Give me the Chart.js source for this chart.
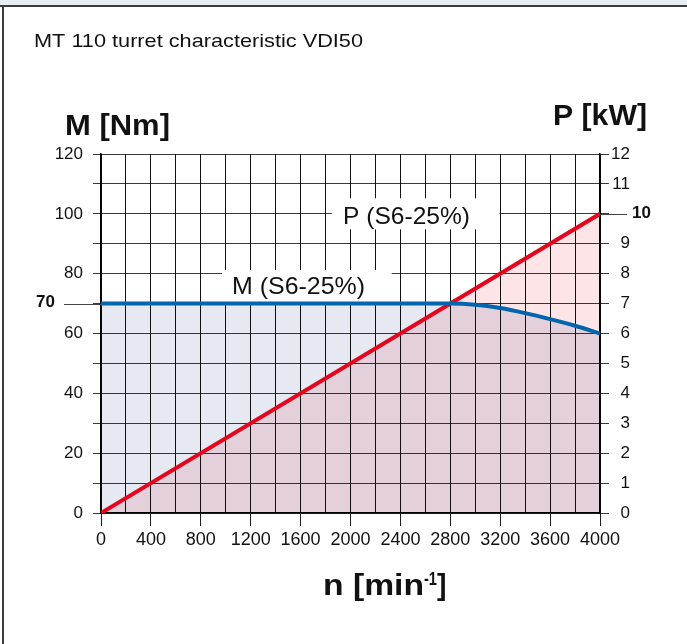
<!DOCTYPE html>
<html>
<head>
<meta charset="utf-8">
<title>MT 110 turret characteristic VDI50</title>
<script src="https://cdn.jsdelivr.net/npm/chart.js@4/dist/chart.umd.min.js"></script>
<style>
  html, body { margin: 0; padding: 0; background: #fff; }
  #wrap { position: relative; width: 687px; height: 644px; }
</style>
</head>
<body>
<div id="wrap"><canvas id="chart" width="687" height="644"></canvas></div>
<script>
// Torque curve M (S6-25%) over spindle speed
const speedM  = [0, 2800, 3000, 3200, 3400, 3600, 3800, 4000];
const torqueM = [70, 70, 69.6, 68.5, 66.8, 64.8, 62.6, 60];

// Power line P (S6-25%) over spindle speed
const speedP = [0, 4000];
const powerP = [0, 10];

// Labelled ticks
const speedTicks  = [0, 400, 800, 1200, 1600, 2000, 2400, 2800, 3200, 3600, 4000];
const torqueTicks = [0, 20, 40, 60, 80, 100, 120];
const powerTicks  = [0, 1, 2, 3, 4, 5, 6, 7, 8, 9, 11, 12];

// Highlighted values
const torqueMark = 70;
const powerMark = 10;

const FONT = "'Liberation Sans', Arial, Helvetica, sans-serif";
const W = 687, H = 644;

function fitText(ctx, text, x, y, font, width) {
  ctx.save();
  ctx.font = font;
  const w = ctx.measureText(text).width;
  ctx.translate(x, y);
  ctx.scale(width / w, 1);
  ctx.textAlign = 'left';
  ctx.textBaseline = 'alphabetic';
  ctx.fillText(text, 0, 0);
  ctx.restore();
}

const decor = {
  id: 'decor',
  beforeDraw(chart) {
    const ctx = chart.ctx;
    ctx.save();
    ctx.fillStyle = '#ffffff';
    ctx.fillRect(0, 0, W, H);
    // page frame
    ctx.fillStyle = '#e9eef2';
    ctx.fillRect(0, 0, W, 5);
    ctx.fillStyle = '#3c3c3c';
    ctx.fillRect(0, 5, W, 2);
    ctx.fillRect(2, 5, 2, H - 5);
    // headings
    ctx.fillStyle = '#111';
    fitText(ctx, 'MT 110 turret characteristic VDI50', 34, 47, '19px ' + FONT, 329);
    fitText(ctx, 'M [Nm]', 65, 135, 'bold 29px ' + FONT, 105);
    fitText(ctx, 'P [kW]', 553, 125, 'bold 30px ' + FONT, 94);
    fitText(ctx, 'n [min', 323, 595, 'bold 29px ' + FONT, 101);
    fitText(ctx, '-1', 424, 585, 'bold 18px ' + FONT, 13);
    fitText(ctx, ']', 437, 595, 'bold 29px ' + FONT, 9.5);
    ctx.restore();
    // overlapping area fills blend like print inks
    ctx.globalCompositeOperation = 'multiply';
  },
  beforeDatasetsDraw(chart) {
    const ctx = chart.ctx;
    ctx.globalCompositeOperation = 'source-over';
    const x = chart.scales.x, y = chart.scales.y;
    ctx.save();
    ctx.fillStyle = '#ffffff';
    // label plates
    let x0 = x.getPixelForValue(1850), x1 = x.getPixelForValue(3195);
    let y0 = y.getPixelForValue(105.2), y1 = y.getPixelForValue(94.8);
    ctx.fillRect(x0, y0, x1 - x0, y1 - y0);
    x0 = x.getPixelForValue(970); x1 = x.getPixelForValue(2330);
    y0 = y.getPixelForValue(81.2); y1 = y.getPixelForValue(70.2);
    ctx.fillRect(x0, y0, x1 - x0, y1 - y0);
    ctx.fillStyle = '#111';
    fitText(ctx, 'P (S6-25%)', 343, 223.5, '24px ' + FONT, 127);
    fitText(ctx, 'M (S6-25%)', 232, 293.5, '24px ' + FONT, 133);
    ctx.restore();
  },
  afterDraw(chart) {
    const ctx = chart.ctx;
    const area = chart.chartArea;
    const yM = chart.scales.y.getPixelForValue(torqueMark);
    const yP = chart.scales.y2.getPixelForValue(powerMark);
    ctx.save();
    ctx.strokeStyle = '#444';
    ctx.lineWidth = 1.2;
    ctx.beginPath();
    ctx.moveTo(64, Math.round(yM) + 0.5);
    ctx.lineTo(area.left, Math.round(yM) + 0.5);
    ctx.moveTo(area.right, Math.round(yP) + 0.5);
    ctx.lineTo(627, Math.round(yP) + 0.5);
    ctx.stroke();
    ctx.fillStyle = '#111';
    ctx.font = 'bold 17px ' + FONT;
    ctx.textBaseline = 'middle';
    ctx.textAlign = 'right';
    ctx.fillText(String(torqueMark), 55, yM - 1);
    ctx.textAlign = 'left';
    ctx.fillText(String(powerMark), 632, yP - 1);
    ctx.restore();
  }
};

const ctx = document.getElementById('chart').getContext('2d');
new Chart(ctx, {
  type: 'line',
  data: {
    datasets: [
      {
        label: 'M (S6-25%)',
        data: speedM.map((n, i) => ({ x: n, y: torqueM[i] })),
        yAxisID: 'y',
        borderColor: '#0066ad',
        backgroundColor: 'rgb(230,233,241)',
        borderWidth: 4,
        pointRadius: 0,
        fill: 'origin',
        cubicInterpolationMode: 'monotone'
      },
      {
        label: 'P (S6-25%)',
        data: speedP.map((n, i) => ({ x: n, y: powerP[i] })),
        yAxisID: 'y2',
        borderColor: '#e3061f',
        backgroundColor: 'rgb(252,228,231)',
        borderWidth: 4,
        borderCapStyle: 'round',
        pointRadius: 0,
        fill: 'origin'
      }
    ]
  },
  options: {
    responsive: false,
    animation: false,
    events: [],
    layout: { padding: { top: 154, left: 0, right: 57, bottom: 0 } },
    plugins: {
      legend: { display: false },
      tooltip: { enabled: false },
      title: { display: false },
      filler: { drawTime: 'beforeDatasetsDraw' }
    },
    scales: {
      x: {
        type: 'linear',
        min: 0,
        max: 4000,
        afterFit(scale) { scale.height = 131; },
        ticks: {
          stepSize: 200,
          autoSkip: false,
          maxRotation: 0,
          padding: 3,
          color: '#111',
          font: { family: FONT, size: 18 },
          callback: v => speedTicks.includes(v) ? String(v) : ''
        },
        grid: {
          color: '#111',
          lineWidth: 1,
          tickLength: 13,
          tickColor: c => (c.tick && speedTicks.includes(c.tick.value)) ? '#1a1a1a' : 'rgba(0,0,0,0)'
        },
        border: { color: '#000', width: 1.5 }
      },
      y: {
        position: 'left',
        min: 0,
        max: 120,
        afterFit(scale) { scale.width = 101; },
        ticks: {
          stepSize: 10,
          autoSkip: false,
          padding: 10,
          crossAlign: 'near',
          color: '#111',
          font: { family: FONT, size: 17 },
          callback: v => torqueTicks.includes(v) ? String(v) : ''
        },
        grid: { color: '#3a3a3a', lineWidth: 1, tickLength: 8 },
        border: { color: '#000', width: 1.5 }
      },
      y2: {
        position: 'right',
        min: 0,
        max: 12,
        afterFit(scale) { scale.width = 30; },
        ticks: {
          stepSize: 1,
          autoSkip: false,
          padding: 2,
          crossAlign: 'far',
          color: '#111',
          font: { family: FONT, size: 17 },
          callback: v => powerTicks.includes(v) ? String(v) : ''
        },
        grid: { drawOnChartArea: false, color: '#3a3a3a', tickLength: 9 },
        border: { color: '#000', width: 1.5 }
      }
    }
  },
  plugins: [decor]
});
</script>
</body>
</html>
